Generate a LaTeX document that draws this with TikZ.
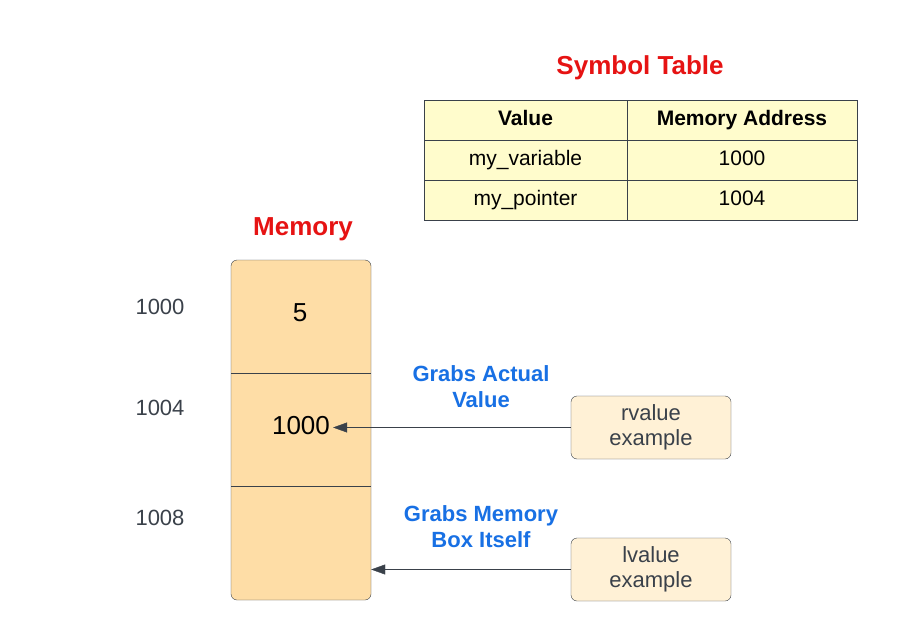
\documentclass[tikz,border=0pt]{standalone}
\usepackage{fontspec}
\setmainfont{Liberation Sans}
\usepackage{tikz}
\usetikzlibrary{arrows.meta, positioning}

\definecolor{titlered}{RGB}{230,19,19}
\definecolor{grabblue}{RGB}{24,112,228}
\definecolor{edgegray}{RGB}{58,65,74}
\definecolor{tabfill}{RGB}{255,252,204}
\definecolor{memfill}{RGB}{254,221,166}
\definecolor{boxfill}{RGB}{255,241,214}

\tikzset{
    title/.style={font=\fontsize{26}{30}\selectfont\bfseries, text=titlered},
    addr/.style={font=\fontsize{22}{26}\selectfont, text=edgegray},
    cellval/.style={font=\fontsize{26}{30}\selectfont},
    tabtext/.style={font=\fontsize{21}{25}\selectfont, text height=15pt, text depth=4.5pt},
    tabhead/.style={tabtext, font=\fontsize{21}{25}\selectfont\bfseries},
    grab/.style={font=\fontsize{22}{26}\selectfont\bfseries, text=grabblue, align=center},
    example/.style={draw=edgegray, fill=boxfill, rounded corners=6pt, minimum width=160pt,
        minimum height=63pt, align=center, text=edgegray, font=\fontsize{22}{25}\selectfont},
    ptr/.style={draw=edgegray, -{Triangle[length=14pt,width=10pt]}}
}

\begin{document}
\begin{tikzpicture}[x=1pt, y=-1pt]
    \useasboundingbox[fill=white] (0, 0) rectangle (897, 642);

    % symbol table
    \node[title] (symtitle) at (640, 68) {Symbol Table};
    \draw[edgegray, fill=tabfill] (424, 100) rectangle (857, 220);
    \draw[edgegray] (627, 100) -- (627, 220);
    \foreach \y in {140, 180}
        \draw[edgegray] (424, \y) -- (857, \y);
    \node[tabhead] (hval) at (525.5, 120) {Value};
    \node[tabhead] (haddr) at (742, 120) {Memory Address};
    \node[tabtext] (varname) at (525.5, 160) {my\_variable};
    \node[tabtext] (varaddr) at (742, 160) {1000};
    \node[tabtext] (ptrname) at (525.5, 200) {my\_pointer};
    \node[tabtext] (ptraddr) at (742, 200) {1004};

    % memory block
    \node[title] (memtitle) at (303, 229) {Memory};
    \node[draw=edgegray, fill=memfill, rounded corners=6pt, minimum width=140pt,
        minimum height=340pt, inner sep=0pt] (mem) at (301, 430) {};
    \draw[edgegray] (231, 373) -- (371, 373);
    \draw[edgegray] (231, 486) -- (371, 486);
    \node[cellval] (val1) at (300, 313) {5};
    \node[cellval, inner sep=3pt] (val2) at (301, 426) {1000};

    \node[addr] (a1) at (160, 307) {1000};
    \node[addr] (a2) at (160, 408) {1004};
    \node[addr] (a3) at (160, 518) {1008};

    % examples
    \node[example] (rbox) at (651, 427.5) {rvalue\\example};
    \node[example] (lbox) at (651, 569.5) {lvalue\\example};

    \node[grab] (rgrab) at (481, 387) {Grabs Actual\\Value};
    \node[grab] (lgrab) at (481, 527) {Grabs Memory\\Box Itself};

    \draw[ptr] (rbox.west) -- (val2.east |- rbox.west);
    \draw[ptr] (lbox.west) -- (mem.east |- lbox.west);
\end{tikzpicture}
\end{document}
